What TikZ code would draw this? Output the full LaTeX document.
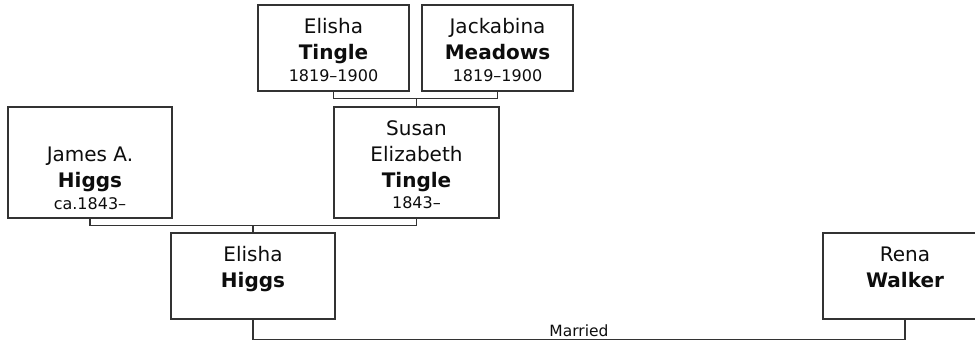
\documentclass[tikz,border=0pt]{standalone}
\usepackage{fontspec}
\setmainfont{DejaVu Sans}
\begin{document}
\begin{tikzpicture}[x=1pt,y=-1pt,
  person/.style={draw=black!80,line width=1.2pt,rectangle,inner sep=0pt,fill=white},
  small/.style={person,minimum width=151pt,minimum height=86pt},
  wide/.style={person,minimum width=164pt,minimum height=86pt},
  tall/.style={person,minimum width=164pt,minimum height=111pt},
  txt/.style={anchor=north,inner sep=0pt,align=center,text=black!95,font=\fontsize{20}{26}\selectfont,yshift=-14pt},
  conn/.style={draw=black!80,line width=1.2pt},
  lbl/.style={inner sep=0pt,text=black!95,font=\fontsize{15.5}{18}\selectfont}
]
\useasboundingbox (0,0) rectangle (975,341);
\clip (0,0) rectangle (975,341);
\newcommand{\datef}{\fontsize{16}{20}\selectfont}
\newcommand{\fst}{\rule{0pt}{15pt}}
% boxes
\node[small] (ET) at (333.5,48) {};
\node[small] (JM) at (497.5,48) {};
\node[tall] (JH) at (90,162.5) {};
\node[tall,minimum width=165pt] (ST) at (416.5,162.5) {};
\node[wide] (EH) at (253,276) {};
\node[wide] (RW) at (905,276) {};
% texts
\node[txt] (ETt) at (ET.north) {\fst Elisha\\\textbf{Tingle}\\[-4pt]{\datef 1819–1900}};
\node[txt] (JMt) at (JM.north) {\fst Jackabina\\\textbf{Meadows}\\[-4pt]{\datef 1819–1900}};
\node[txt,yshift=-26pt] (JHt) at (JH.north) {\fst James A.\\\textbf{Higgs}\\[-4pt]{\datef ca.1843–}};
\node[txt] (STt) at (ST.north) {\fst Susan\\Elizabeth\\\textbf{Tingle}\\[-5pt]{\datef 1843–}};
\node[txt] (EHt) at (EH.north) {\fst Elisha\\\textbf{Higgs}};
\node[txt] (RWt) at (RW.north) {\fst Rena\\\textbf{Walker}};
% connectors
\draw[conn] (ET.south) -- ++(0,7) coordinate (j1) -| (JM.south);
\draw[conn] (ST.north) -- (ST.north |- j1);
\draw[conn] (JH.south) -- ++(0,7) coordinate (j2) -| (ST.south);
\draw[conn] (EH.north) -- (EH.north |- j2);
\draw[conn] (EH.south) -- ++(0,20) coordinate (j3) -| node[lbl,pos=0.25,anchor=base,yshift=3pt] (married) {Married} (RW.south);
\end{tikzpicture}
\end{document}
